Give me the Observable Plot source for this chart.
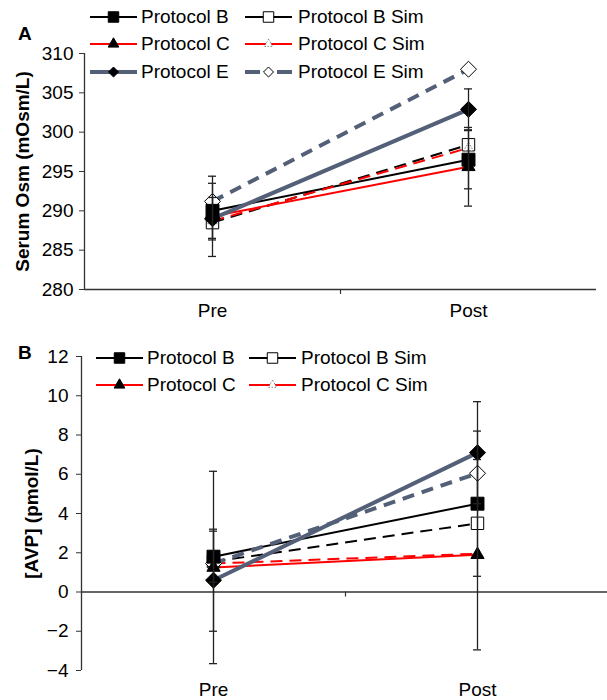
<!DOCTYPE html>
<html><head><meta charset="utf-8">
<script src="https://cdn.jsdelivr.net/npm/d3@7"></script>
<script src="https://cdn.jsdelivr.net/npm/@observablehq/plot@0.6"></script>
<style>
body{margin:0;background:#fff;font-family:"Liberation Sans",Arial,sans-serif;color:#000;}
#wrap{position:relative;width:607px;height:700px;overflow:hidden;background:#fff;}
#wrap svg.plot{position:absolute;left:0;}
.leg{position:absolute;display:flex;align-items:center;font-size:19px;white-space:nowrap;height:20px;}
.leg svg{display:block;flex:none;}
.panel{position:absolute;font-weight:bold;font-size:19px;line-height:19px;}
</style></head><body><div id="wrap"></div>
<script>
// ---------- data ----------
const phases = ["Pre", "Post"];
const series = ["Protocol B", "Protocol B Sim", "Protocol C", "Protocol C Sim", "Protocol E", "Protocol E Sim"];

// Panel A: serum osmolality (mOsm/L)
const osmPre      = [290.0, 288.5, 289.3, 288.7, 289.0, 291.2];
const osmPost     = [296.5, 298.4, 295.6, 298.0, 302.9, 308.0];
const osmErrPre   = [3.5, null, 5.1, null, 2.7, null];
const osmErrPost  = [3.7, null, 5.0, null, 2.6, null];
const osmTicks    = [280, 285, 290, 295, 300, 305, 310];

// Panel B: AVP (pmol/L)
const avpPre      = [1.8, 1.55, 1.25, 1.45, 0.6, 1.45];
const avpPost     = [4.5, 3.5, 1.9, 1.95, 7.1, 6.05];
const avpErrPre   = [1.3, null, 4.9, null, 2.6, null];
const avpErrPost  = [3.7, null, 4.85, null, 2.6, null];
const avpTicks    = [-4, -2, 0, 2, 4, 6, 8, 10, 12];

const legendA = ["Protocol B", "Protocol B Sim", "Protocol C", "Protocol C Sim", "Protocol E", "Protocol E Sim"];
const legendB = ["Protocol B", "Protocol B Sim", "Protocol C", "Protocol C Sim"];

// ---------- styles ----------
const EC = "#536077";
const style = {
  "Protocol B":     {color: "#000", width: 2,   dash: null,   symbol: "square",   fill: "#000", r: 7.3, ls: d3.symbolSquare, lsize: 110},
  "Protocol B Sim": {color: "#000", width: 2,   dash: "12,7", symbol: "square",   fill: "#fff", r: 7.0, ls: d3.symbolSquare, lsize: 110, sim: true},
  "Protocol C":     {color: "#f00", width: 2,   dash: null,   symbol: "triangle", fill: "#000", r: 4.9, ls: d3.symbolTriangle, lsize: 50},
  "Protocol C Sim": {color: "#f00", width: 2,   dash: "12,7", symbol: "triangle", fill: "#fff", r: 3.5, ls: d3.symbolTriangle, lsize: 30, dotted: true, sim: true},
  "Protocol E":     {color: EC,     width: 4,   dash: null,   symbol: "diamond2", fill: "#000", r: 7.2, ls: d3.symbolDiamond2, lsize: 64},
  "Protocol E Sim": {color: EC,     width: 4,   dash: "12,8", symbol: "diamond2", fill: "#fff", r: 7.2, ls: d3.symbolDiamond2, lsize: 64, split: true, sim: true}
};

function rows(pre, post, errPre, errPost) {
  return series.flatMap((s, i) => [
    {s, x: 0, v: pre[i],  e: errPre[i]},
    {s, x: 1, v: post[i], e: errPost[i]}
  ]);
}

function panel({data, yDomain, ticks, yTitle, height, mt, mb, xRange, base, titleDx, labelPad, tickPad}) {
  const errs = data.filter(d => d.e != null);
  const marks = [
    Plot.ruleY([base], {x1: -0.5, x2: 1.5, stroke: "#333", strokeWidth: 1.3}),
    Plot.ruleX([-0.5], {stroke: "#333", strokeWidth: 1.3}),
    Plot.ruleX([0.5], {y1: base, y2: base, insetBottom: -5, stroke: "#333", strokeWidth: 1.2}),
    Plot.axisY({ticks, tickSize: 5, tickPadding: tickPad, label: null, stroke: "#333", fontSize: 19}),
    Plot.axisX({ticks: [0, 1], tickFormat: i => phases[i], tickSize: 0, tickPadding: labelPad, label: null, fontSize: 19}),
    Plot.text([yTitle], {frameAnchor: "left", text: d => d, rotate: -90, dx: titleDx, textAnchor: "middle", lineAnchor: "middle", fontSize: 19, fontWeight: "bold"})
  ];
  for (const s of series) {
    const st = style[s];
    marks.push(Plot.line(data.filter(d => d.s === s), {x: "x", y: "v", stroke: st.color, strokeWidth: st.width, strokeDasharray: st.dash ?? undefined, strokeLinecap: "butt"}));
  }
  const order = [...series.filter(s => style[s].sim), ...series.filter(s => !style[s].sim)];
  for (const s of order) {
    const st = style[s];
    marks.push(Plot.dot(data.filter(d => d.s === s), {x: "x", y: "v", symbol: st.symbol, r: st.r, fill: st.fill,
      stroke: st.dotted ? "#555" : "#000", strokeWidth: st.dotted ? 0.8 : 1, strokeDasharray: st.dotted ? "1.5,1.5" : undefined}));
  }
  marks.push(Plot.ruleX(errs, {x: "x", y1: d => d.v - d.e, y2: d => d.v + d.e, stroke: "#222", strokeWidth: 1.3}));
  marks.push(Plot.ruleY(errs, {y: d => d.v + d.e, x1: "x", x2: "x", insetLeft: -4, insetRight: -4, stroke: "#222", strokeWidth: 1.3}));
  marks.push(Plot.ruleY(errs, {y: d => d.v - d.e, x1: "x", x2: "x", insetLeft: -4, insetRight: -4, stroke: "#222", strokeWidth: 1.3}));
  return Plot.plot({
    width: 607, height,
    marginTop: mt, marginBottom: mb, marginLeft: xRange[0], marginRight: 0,
    x: {type: "linear", domain: [-0.5, 1.5], range: xRange, axis: null},
    y: {domain: yDomain, axis: null},
    style: {fontFamily: "Liberation Sans, Arial, sans-serif", fontSize: "19px", color: "#000", background: "transparent", overflow: "visible"},
    marks
  });
}

const wrap = document.getElementById("wrap");

const pA = panel({data: rows(osmPre, osmPost, osmErrPre, osmErrPost), yDomain: [280, 310], ticks: osmTicks,
  yTitle: "Serum Osm (mOsm/L)", height: 330, mt: 53, mb: 41, xRange: [84, 596], base: 280, titleDx: -62, labelPad: 14, tickPad: 6});
pA.classList.add("plot"); pA.style.top = "0px";
wrap.appendChild(pA);

const pB = panel({data: rows(avpPre, avpPost, avpErrPre, avpErrPost), yDomain: [-4, 12], ticks: avpTicks,
  yTitle: "[AVP] (pmol/L)", height: 370, mt: 26, mb: 30, xRange: [81, 609], base: 0, titleDx: -50, labelPad: 12, tickPad: 8});
pB.classList.add("plot"); pB.style.top = "330px";
wrap.appendChild(pB);

// panel letters
for (const [t, x, y] of [["A", 18, 24], ["B", 18, 343]]) {
  const d = document.createElement("div");
  d.className = "panel"; d.textContent = t;
  d.style.left = x + "px"; d.style.top = y + "px";
  wrap.appendChild(d);
}

// legends
function legendItem(s, left, cy, gap) {
  const st = style[s];
  const div = document.createElement("div");
  div.className = "leg";
  div.style.left = left + "px"; div.style.top = (cy - 10) + "px";
  const svg = d3.create("svg").attr("width", 47).attr("height", 20);
  if (st.split) {
    svg.append("line").attr("x1", 0).attr("x2", 15).attr("y1", 10).attr("y2", 10).attr("stroke", st.color).attr("stroke-width", st.width);
    svg.append("line").attr("x1", 32).attr("x2", 47).attr("y1", 10).attr("y2", 10).attr("stroke", st.color).attr("stroke-width", st.width);
  } else {
    svg.append("line").attr("x1", 0).attr("x2", 47).attr("y1", 10).attr("y2", 10).attr("stroke", st.color).attr("stroke-width", st.width);
  }
  svg.append("path").attr("d", d3.symbol(st.ls, st.lsize)()).attr("transform", "translate(23.5,10)")
    .attr("fill", st.fill).attr("stroke", st.dotted ? "#666" : "#000").attr("stroke-width", st.dotted ? 0.8 : 1)
    .attr("stroke-dasharray", st.dotted ? "1.5,1.5" : null);
  div.appendChild(svg.node());
  const sp = document.createElement("span");
  sp.textContent = s; sp.style.marginLeft = gap + "px";
  div.appendChild(sp);
  wrap.appendChild(div);
}
legendA.forEach((s, i) => {
  const row = Math.floor(i / 2), col = i % 2;
  legendItem(s, col ? 245 : 90, [17, 44, 72][row], col ? 6 : 4);
});
legendB.forEach((s, i) => {
  const row = Math.floor(i / 2), col = i % 2;
  legendItem(s, col ? 249 : 96, 330 + [28, 55][row], col ? 5 : 4);
});
</script>
</body></html>
